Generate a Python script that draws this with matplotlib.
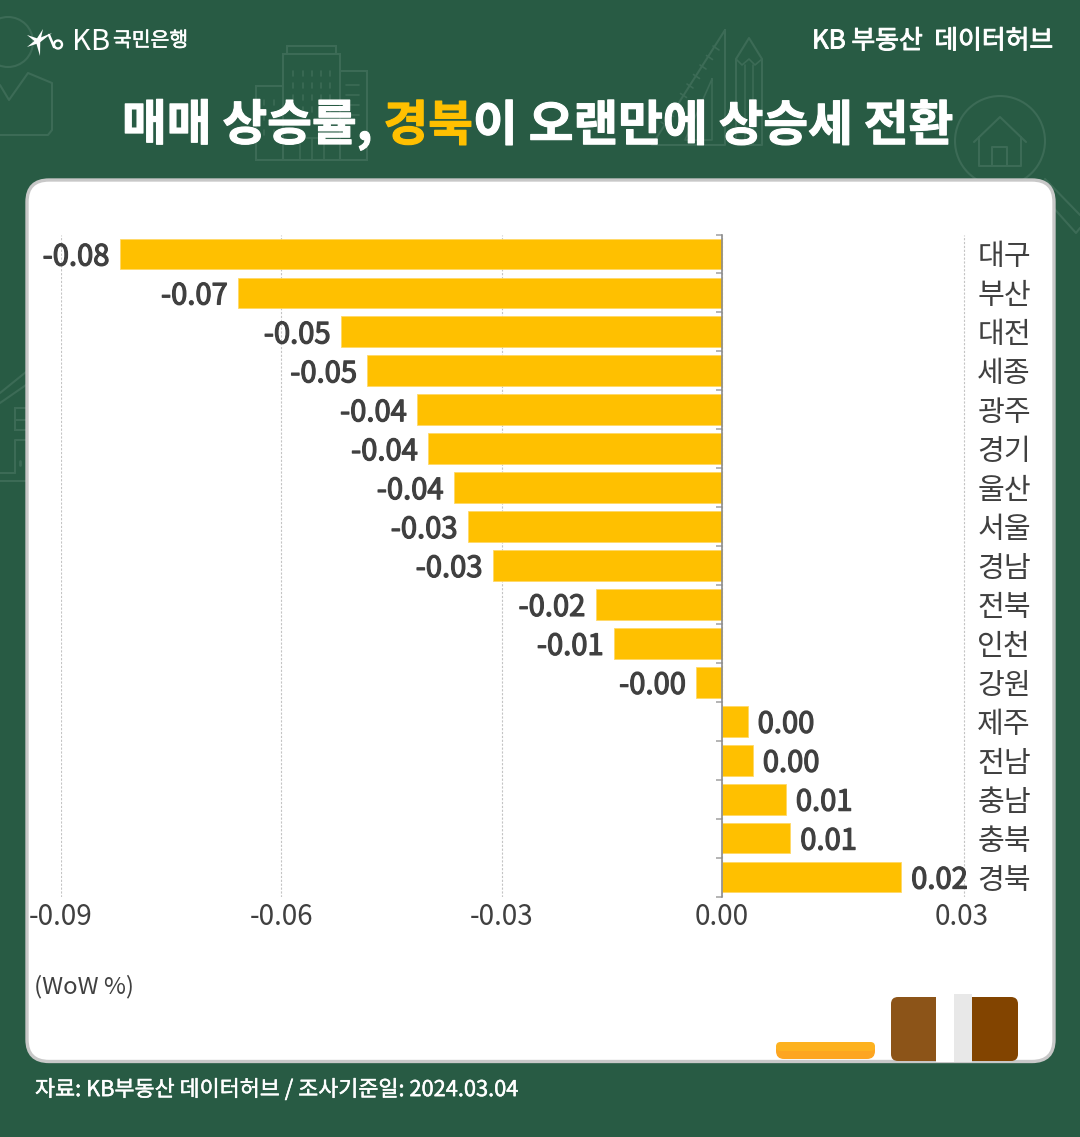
import matplotlib
matplotlib.use("Agg")
import matplotlib.pyplot as plt
from matplotlib.patches import FancyBboxPatch, Circle, Rectangle, Polygon
from matplotlib.transforms import ScaledTranslation
import matplotlib.patheffects as pe

plt.rcParams['font.family'] = ['Noto Sans CJK KR', 'DejaVu Sans']

regions = ['대구','부산','대전','세종','광주','경기','울산','서울','경남','전북','인천','강원','제주','전남','충남','충북','경북']
wow = [-0.0820,-0.0659,-0.0519,-0.0483,-0.0415,-0.0400,-0.0365,-0.0346,-0.0312,-0.0172,-0.0147,-0.0035,0.0035,0.0042,0.0087,0.0093,0.0244]
# 0.03 tick sits a bit further out than the scale says, same as the source picture
tick_pos = [-0.09,-0.06,-0.03,0.0,0.033]
tick_labels = ['-0.09','-0.06','-0.03','0.00','0.03']

BG = '#285B44'
DECO = '#3C6B56'
BAR = '#FFC000'
DARK = '#404040'

W, H = 1080, 1137
fig = plt.figure(figsize=(W/100, H/100), dpi=100, facecolor=BG)

# pixel space canvas for the card and decoration
bg = fig.add_axes([0,0,1,1])
bg.set_xlim(0,W); bg.set_ylim(H,0); bg.axis('off')

def heavy(width, color='white'):
    return [pe.withStroke(linewidth=width, foreground=color)]

def deco_line(xs, ys, lw=1.5):
    bg.plot(xs, ys, color=DECO, lw=lw, solid_capstyle='round', zorder=1)

def deco_rect(x, y, w, h, lw=1.5):
    bg.add_patch(Rectangle((x,y), w, h, fill=False, ec=DECO, lw=lw, zorder=1))

# person icon, top left
bg.add_patch(Circle((8,42), 25, fill=False, ec=DECO, lw=1.5, zorder=1))
deco_line([0,9,28,52,52,48,0], [85,100,73,83,130,135,135])
# buildings
deco_rect(283,54,57,106); deco_rect(287,46,49,8); deco_rect(256,86,27,74); deco_rect(340,71,27,89)
for bx in (293,303,312,321,330):
    for by in (71,83,95,107):
        deco_line([bx,bx],[by,by+5],1.2)
for by in (85,95,105,115):
    deco_line([346,359],[by,by],1.2)
for bx in (264,274):
    for by in (100,115,130):
        deco_line([bx,bx],[by,by+5],1.2)
deco_line([300,338],[138,138],1.2)
for bx in (300,312,324):
    deco_line([bx,bx],[138,160],1.2)
# ruler and pencil
deco_line([725,725,652,725],[30,145,145,30])
deco_line([712,712,685,712],[79,140,140,79],1.2)
for i in range(9):
    deco_line([719-i*6.5,713-i*6.5],[50+i*9.5,46+i*9.5],1.2)
deco_line([736,736,749,762,762,736],[145,59,38,59,145,145])
deco_line([736,742,749,755,762],[59,65,59,65,59],1.2)
deco_line([745,745],[65,145],1.2); deco_line([753,753],[65,145],1.2)
# magnifier with house
bg.add_patch(Circle((1000,141), 45, fill=False, ec=DECO, lw=1.5, zorder=1))
deco_line([1033,1076,1080],[185,233,228])
deco_line([1045,1080],[179,215])
deco_line([974,1000,1026],[142,117,142])
deco_line([979,979,1021,1021],[137,166,166,137])
deco_line([992,992,1007,1007],[166,147,147,166])
# house on the left edge
deco_line([0,26],[393,372])
deco_line([0,26],[403,385])
deco_rect(15,408,14,22); deco_line([15,29],[420,420])
deco_line([15,15,29],[473,440,440]); deco_line([0,15],[473,473]); deco_line([0,29],[481,481])
deco_line([20,20],[461,465],2)

# card
bg.add_patch(FancyBboxPatch((27,180), 1027, 881.5, boxstyle='round,pad=0,rounding_size=22',
                            fc='white', ec='#C8C8C8', lw=2.4, zorder=2))

# pencil and eraser pieces at the card bottom
bg.add_patch(FancyBboxPatch((776,1042), 99, 17, boxstyle='round,pad=0,rounding_size=8', fc='#FDA521', ec='none', zorder=3))
bg.add_patch(FancyBboxPatch((776,1042), 99, 9, boxstyle='round,pad=0,rounding_size=4.5', fc='#FDB21F', ec='none', zorder=3))
bg.add_patch(FancyBboxPatch((891,997), 60, 64, boxstyle='round,pad=0,rounding_size=7', fc='#8C5418', ec='none', zorder=3))
bg.add_patch(FancyBboxPatch((960,997), 58, 64, boxstyle='round,pad=0,rounding_size=7', fc='#824400', ec='none', zorder=3))
bg.add_patch(Rectangle((935.5,995), 18, 67, fc='white', ec='none', zorder=4))
bg.add_patch(Rectangle((953.5,994), 18.5, 68, fc='#E8E8E8', ec='none', zorder=4))

# header logo
center = (38,41)
for tip in ((27,35),(27,47),(43,29),(40,56),(52,33)):
    dx, dy = center[0]-tip[0], center[1]-tip[1]
    ln = (dx*dx+dy*dy)**0.5
    nx, ny = -dy/ln*2.3, dx/ln*2.3
    bg.add_patch(Polygon([tip,(center[0]+nx,center[1]+ny),(center[0]-nx,center[1]-ny)], fc='white', ec='none', zorder=5))
bg.plot([49,52,54],[35,42,47], color='white', lw=1.8, solid_capstyle='round', zorder=5)
bg.add_patch(Circle((58,44.5), 4, fill=False, ec='white', lw=1.7, zorder=5))
bg.text(72,41.5,'KB',color='white',fontsize=21,fontweight='light',va='center',ha='left',zorder=5)
bg.text(113,41,'국민은행',color='white',fontsize=14.7,va='center',ha='left',zorder=5,path_effects=heavy(0.4))
bg.text(1053,41,'KB 부동산  데이터허브',color='white',fontsize=18.6,va='center',ha='right',zorder=5,path_effects=heavy(0.7))

# title in three colour pieces
tsize = 35
t1 = bg.text(122,140,'매매 상승률, ',color='white',fontsize=tsize,fontweight='bold',va='baseline',ha='left',zorder=5,path_effects=heavy(0.8))
t2 = bg.annotate('경북',xy=(1,0),xycoords=t1,color=BAR,fontsize=tsize,fontweight='bold',va='bottom',ha='left',zorder=5,path_effects=heavy(0.8,BAR))
t3 = bg.annotate('이 오랜만에 상승세 전환',xy=(1,0),xycoords=t2,color='white',fontsize=tsize,fontweight='bold',va='bottom',ha='left',zorder=5,path_effects=heavy(0.8))

bg.text(34,987,'(WoW %)',color=DARK,fontsize=17.2,va='center',ha='left',zorder=5)
bg.text(35,1090,'자료: KB부동산 데이터허브 / 조사기준일: 2024.03.04',color='white',fontsize=15.7,va='center',ha='left',zorder=5,path_effects=heavy(0.35))

# bar chart, right edge a little past the last tick so its grid line shows whole
right_px = 970
ax = fig.add_axes([61/W, 1-896.5/H, (right_px-61)/W, (896.5-234.5)/H])
ax.patch.set_alpha(0)
ax.set_zorder(3)
n = len(regions)
ypos = list(range(n))
ax.set_xlim(-0.09,-0.09+(right_px-61)/7344)
ax.set_ylim(n-0.5,-0.5)
ax.barh(ypos, wow, height=0.79, color=BAR, edgecolor='#FFD966', linewidth=0.6, zorder=3)

for s in ('top','right','bottom'):
    ax.spines[s].set_visible(False)
ax.spines['left'].set_position(('data',0))
ax.spines['left'].set_color('#8C8C8C')
ax.spines['left'].set_linewidth(1.2)
ax.spines['left'].set_zorder(4)
ax.set_yticks([i-0.5 for i in range(n+1)])
ax.set_yticklabels([])
ax.tick_params(axis='y', length=4.5, width=1.1, color='#A0A0A0', direction='out')

ax.set_xticks(tick_pos)
ax.set_xticklabels(tick_labels, fontsize=20, color=DARK)
ax.tick_params(axis='x', length=0, pad=4.2)
# the last label sits slightly left of its grid line
last = ax.get_xticklabels()[-1]
last.set_transform(last.get_transform() + ScaledTranslation(-3/100, 0, fig.dpi_scale_trans))
ax.grid(axis='x', color='#C4C4C4', ls=(0,(2,1.5)), lw=0.8, zorder=0)
ax.set_axisbelow(True)

for i,(name,v) in enumerate(zip(regions,wow)):
    off = 10 if v > 0 else -10
    ax.annotate(f'{v:.2f}', xy=(v,i), xytext=(off*0.72,0), textcoords='offset points',
                ha='left' if v > 0 else 'right', va='center_baseline', fontsize=21,
                color=DARK, zorder=5, path_effects=heavy(0.9,DARK))
    ax.annotate(name, xy=(0.033,i), xytext=(13*0.72,0), textcoords='offset points',
                ha='left', va='center_baseline', fontsize=21, color=DARK,
                annotation_clip=False)

fig.savefig('out.png', dpi=100, facecolor=BG)
